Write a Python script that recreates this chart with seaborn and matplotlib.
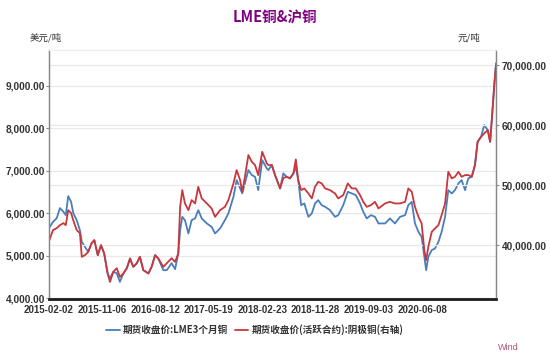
import matplotlib
matplotlib.use("Agg")
import matplotlib.pyplot as plt
import matplotlib.ticker as mticker
import seaborn as sns
import pandas as pd

# ---- data (trading-day index) ----
day_idx = [0, 15, 29, 41, 54, 63, 72, 83, 91, 104, 116, 123, 135, 147, 160, 170, 183, 195,
           207, 220, 229, 241, 254, 266, 279, 292, 304, 316, 329, 341, 354, 373, 385, 398,
           410, 429, 442, 460, 473, 485, 492, 500, 510, 523, 535, 548, 560, 573, 592, 610,
           623, 642, 660, 673, 692, 704, 717, 725, 735, 748, 761, 773, 785, 800, 817, 823,
           836, 848, 867, 879, 892, 904, 917, 926, 935, 946, 958, 973, 986, 998, 1010, 1023,
           1036, 1054, 1073, 1085, 1104, 1121, 1136, 1151, 1167, 1179, 1192, 1208, 1223,
           1236, 1261, 1279, 1298, 1317, 1336, 1348, 1361, 1373, 1386, 1398, 1408, 1415,
           1423, 1436, 1448, 1461, 1473, 1486, 1498, 1511, 1523, 1536, 1548, 1561, 1573,
           1586, 1598, 1608, 1621, 1633, 1646, 1655, 1663, 1671, 1677]

lme_3m = [5654, 5802, 5889, 6125, 6038, 5960, 6407, 6273, 6007, 5842, 5607, 5332, 5214, 5096,
          5301, 5372, 5019, 5254, 5059, 4588, 4471, 4626, 4595, 4391, 4588, 4713, 4941, 4744,
          4824, 4979, 4666, 4588, 4744, 5019, 4941, 4666, 4666, 4831, 4689, 5059, 5607, 5920,
          5842, 5529, 5842, 5882, 6078, 5882, 5765, 5685, 5529, 5647, 5842, 6000, 6391, 6784,
          6588, 6471, 6706, 7019, 6901, 6861, 6548, 7254, 7059, 7019, 7137, 6901, 6588, 6941,
          6861, 6824, 6941, 7097, 6784, 6195, 6235, 5920, 6000, 6235, 6313, 6195, 6155, 6078,
          5920, 5960, 6195, 6508, 6471, 6431, 6235, 6038, 5882, 5960, 5920, 5765, 5765, 5882,
          5765, 5920, 5960, 6195, 6273, 5765, 5567, 5449, 4979, 4666, 4979, 5137, 5177, 5332,
          5567, 5920, 6548, 6471, 6548, 6706, 6784, 6548, 6824, 6861, 7137, 7685, 7803, 8078,
          7960, 7685, 8353, 9059, 9537]

shfe_cu = [40667, 42500, 42833, 43333, 43667, 43333, 45833, 45333, 44167, 42500, 42000, 38050,
           38333, 38883, 40333, 40833, 38333, 40000, 38617, 35283, 33883, 35550, 36167, 34717,
           35283, 36167, 37783, 36383, 36950, 38050, 35833, 35283, 36383, 38333, 37783, 36383,
           37000, 37833, 37217, 38617, 46383, 49167, 46950, 45833, 47500, 46950, 49717, 47783,
           46950, 46117, 44717, 45833, 46383, 47500, 50283, 52500, 50833, 48883, 51383, 55000,
           53883, 53333, 51667, 55550, 53617, 53333, 53333, 51667, 49450, 51167, 51383, 51117,
           51950, 54283, 50833, 49167, 49450, 48617, 47783, 49717, 50550, 50283, 49450, 49167,
           48617, 47783, 48333, 50283, 49450, 49450, 48333, 47217, 46383, 46667, 47217, 46117,
           46950, 47217, 46950, 46950, 47217, 49450, 48883, 46383, 44717, 43617, 39167, 37500,
           39717, 42217, 42783, 43333, 45000, 46950, 52217, 51117, 51383, 52217, 51383, 51667,
           51667, 51383, 53333, 57217, 58050, 58617, 59167, 57217, 61950, 66950, 70000]

tick_pos = [0, 200, 400, 600, 800, 1000, 1200, 1400]
tick_labels = ["2015-02-02", "2015-11-06", "2016-08-12", "2017-05-19",
               "2018-02-23", "2018-11-28", "2019-09-03", "2020-06-08"]

title = "LME铜&沪铜"
left_unit = "美元/吨"
right_unit = "元/吨"
name_lme = "期货收盘价:LME3个月铜"
name_shfe = "期货收盘价(活跃合约):阴极铜(右轴)"

df = pd.DataFrame({"day": day_idx, "lme": lme_3m, "shfe": shfe_cu})

# ---- style ----
sns.set_style("white")
plt.rcParams["font.family"] = ["Liberation Sans", "Noto Sans CJK SC", "DejaVu Sans"]

BLUE = "#4a7ebb"
RED = "#c8373c"
GRID = "#e8e8e8"
TXT = "#333333"

fig = plt.figure(figsize=(5.5, 3.57), dpi=100)
ax = fig.add_axes([49 / 550, 1 - 298.5 / 357, (496 - 49) / 550, (298.5 - 50) / 357])
ax2 = ax.twinx()

sns.lineplot(data=df, x="day", y="lme", ax=ax, color=BLUE, linewidth=1.3, label=name_lme, legend=False)
sns.lineplot(data=df, x="day", y="shfe", ax=ax2, color=RED, linewidth=1.3, label=name_shfe, legend=False)

ax.set_xlim(0, 1677)
ax.set_ylim(4000, 9843)
ax2.set_ylim(31117, 72500)

ax.set_yticks([4000, 5000, 6000, 7000, 8000, 9000])
ax2.set_yticks([40000, 50000, 60000, 70000])
fmt = mticker.FuncFormatter(lambda v, p: f"{v:,.2f}")
ax.yaxis.set_major_formatter(fmt)
ax2.yaxis.set_major_formatter(fmt)
ax.set_xticks(tick_pos)
ax.set_xticklabels(tick_labels)

for a in (ax, ax2):
    a.set_xlabel("")
    a.set_ylabel("")
    a.yaxis.grid(True, color=GRID, linewidth=0.9)
    a.set_axisbelow(True)
ax2.set_zorder(ax.get_zorder() + 1)
ax2.patch.set_visible(False)
ax.xaxis.grid(False)

ax.tick_params(axis="y", length=2, width=0.8, color="#888888", pad=1, labelsize=7.3, labelcolor=TXT)
ax2.tick_params(axis="y", length=2, width=0.8, color="#888888", pad=2, labelsize=7.3, labelcolor=TXT)
ax.tick_params(axis="x", length=3, width=0.8, color="#888888", pad=1.5, labelsize=7, labelcolor=TXT)
for lab in ax.get_yticklabels() + ax2.get_yticklabels() + ax.get_xticklabels():
    lab.set_fontweight("bold")

for a in (ax, ax2):
    a.spines["top"].set_color("#eeeeee")
    a.spines["top"].set_linewidth(0.8)
    a.spines["left"].set_color("#888888")
    a.spines["right"].set_color("#888888")
    a.spines["left"].set_linewidth(0.9)
    a.spines["right"].set_linewidth(0.9)
    a.spines["bottom"].set_color("#222222")
    a.spines["bottom"].set_linewidth(1.8)

fig.text(0.5, 1 - 18 / 357, title, ha="center", va="center", fontsize=10.5,
         fontweight="bold", color="#800080", family=["Noto Sans CJK SC", "DejaVu Sans"])
fig.text(46 / 550, 1 - 38 / 357, left_unit, ha="center", va="center", fontsize=6.8,
         color=TXT, family=["Noto Sans CJK SC", "DejaVu Sans"])
fig.text(469 / 550, 1 - 38 / 357, right_unit, ha="center", va="center", fontsize=6.8,
         color=TXT, family=["Noto Sans CJK SC", "DejaVu Sans"])

h1, l1 = ax.get_legend_handles_labels()
h2, l2 = ax2.get_legend_handles_labels()
leg = fig.legend(h1 + h2, l1 + l2, loc="center", bbox_to_anchor=(255 / 550, 1 - 330 / 357), ncol=2,
                 frameon=False, handlelength=1.4, handletextpad=0.35, columnspacing=0.7,
                 prop={"family": ["Noto Sans CJK SC", "DejaVu Sans"], "size": 6.9, "weight": "bold"})
for t in leg.get_texts():
    t.set_color(TXT)

fig.text(508 / 550, 1 - 347 / 357, "Wind", ha="center", va="center", fontsize=6.5,
         color="#b0507a")

fig.savefig("out.png", dpi=100)
